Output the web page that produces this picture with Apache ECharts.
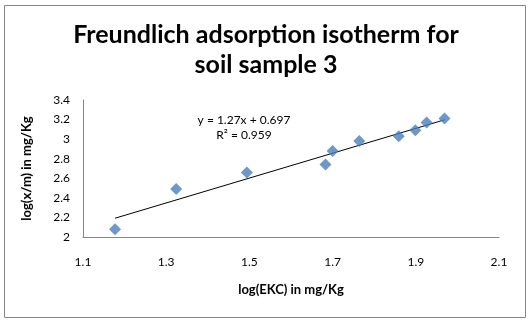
<!DOCTYPE html>
<html>
<head>
<meta charset="utf-8">
<script src="https://cdn.jsdelivr.net/npm/echarts@6/dist/echarts.min.js"></script>
<style>html,body{margin:0;padding:0;background:#fff}#c{width:532px;height:321px}</style>
</head>
<body>
<div id="c"></div>
<script>
var xValues = [1.177, 1.324, 1.494, 1.683, 1.700, 1.764, 1.859, 1.899, 1.926, 1.969];
var yValues = [2.08, 2.49, 2.66, 2.74, 2.88, 2.98, 3.03, 3.09, 3.17, 3.21];
var slope = 1.27;
var intercept = 0.697;
var rSquared = 0.959;
var xTicks = [1.1, 1.3, 1.5, 1.7, 1.9, 2.1];
var yTicks = [2, 2.2, 2.4, 2.6, 2.8, 3, 3.2, 3.4];
var titleText = 'Freundlich adsorption isotherm for\nsoil sample 3';
var xName = 'log(EKC) in mg/Kg';
var yName = 'log(x/m) in mg/Kg';

var points = xValues.map(function (x, i) { return [x, yValues[i]]; });
var xMin = Math.min.apply(null, xValues), xMax = Math.max.apply(null, xValues);
var trend = [[xMin, slope * xMin + intercept], [xMax, slope * xMax + intercept]];

var font = 'Lato, "Open Sans", sans-serif';
var chart = echarts.init(document.getElementById('c'), null, {renderer: 'canvas'});
chart.setOption({
  animation: false,
  backgroundColor: '#fff',
  title: {
    text: titleText, left: 'center', top: 15,
    textStyle: {fontFamily: font, fontWeight: 'bold', fontSize: 25, lineHeight: 30, color: '#000'}
  },
  grid: {left: 83, right: 33, top: 100, bottom: 84},
  xAxis: {
    type: 'value', min: xTicks[0], max: xTicks[xTicks.length - 1], interval: 0.2,
    name: xName, nameLocation: 'middle', nameGap: 46,
    nameTextStyle: {fontFamily: font, fontWeight: 'bold', fontSize: 13, color: '#000'},
    axisLine: {lineStyle: {color: '#868686'}},
    axisTick: {show: false}, splitLine: {show: false},
    axisLabel: {fontFamily: font, fontSize: 12, color: '#000', margin: 19,
      formatter: function (v) { return (+v).toFixed(1); }}
  },
  yAxis: {
    type: 'value', min: yTicks[0], max: yTicks[yTicks.length - 1], interval: 0.2,
    name: yName, nameLocation: 'middle', nameGap: 50, nameRotate: 90,
    nameTextStyle: {fontFamily: font, fontWeight: 'bold', fontSize: 13, color: '#000'},
    axisLine: {show: true, lineStyle: {color: '#868686'}},
    axisTick: {show: false}, splitLine: {show: false},
    axisLabel: {fontFamily: font, fontSize: 12, color: '#000', margin: 13,
      formatter: function (v) { return String(Math.round(v * 10) / 10); }}
  },
  series: [
    {type: 'scatter', data: points, symbol: 'diamond', symbolSize: 12,
     itemStyle: {color: '#4A7EBB'}, z: 3},
    {type: 'line', data: trend, symbol: 'none', lineStyle: {color: '#000', width: 1}, z: 2}
  ],
  graphic: [
    {type: 'rect', shape: {x: 4.5, y: 5.5, width: 521, height: 312},
     style: {fill: null, stroke: '#868686', lineWidth: 1}, silent: true},
    {type: 'text', x: 244, y: 113,
     style: {text: 'y = ' + slope + 'x + ' + intercept + '\nR² = ' + rSquared, align: 'center',
       verticalAlign: 'top', font: '12px ' + font, fill: '#000', lineHeight: 15}}
  ]
});
</script>
</body>
</html>
